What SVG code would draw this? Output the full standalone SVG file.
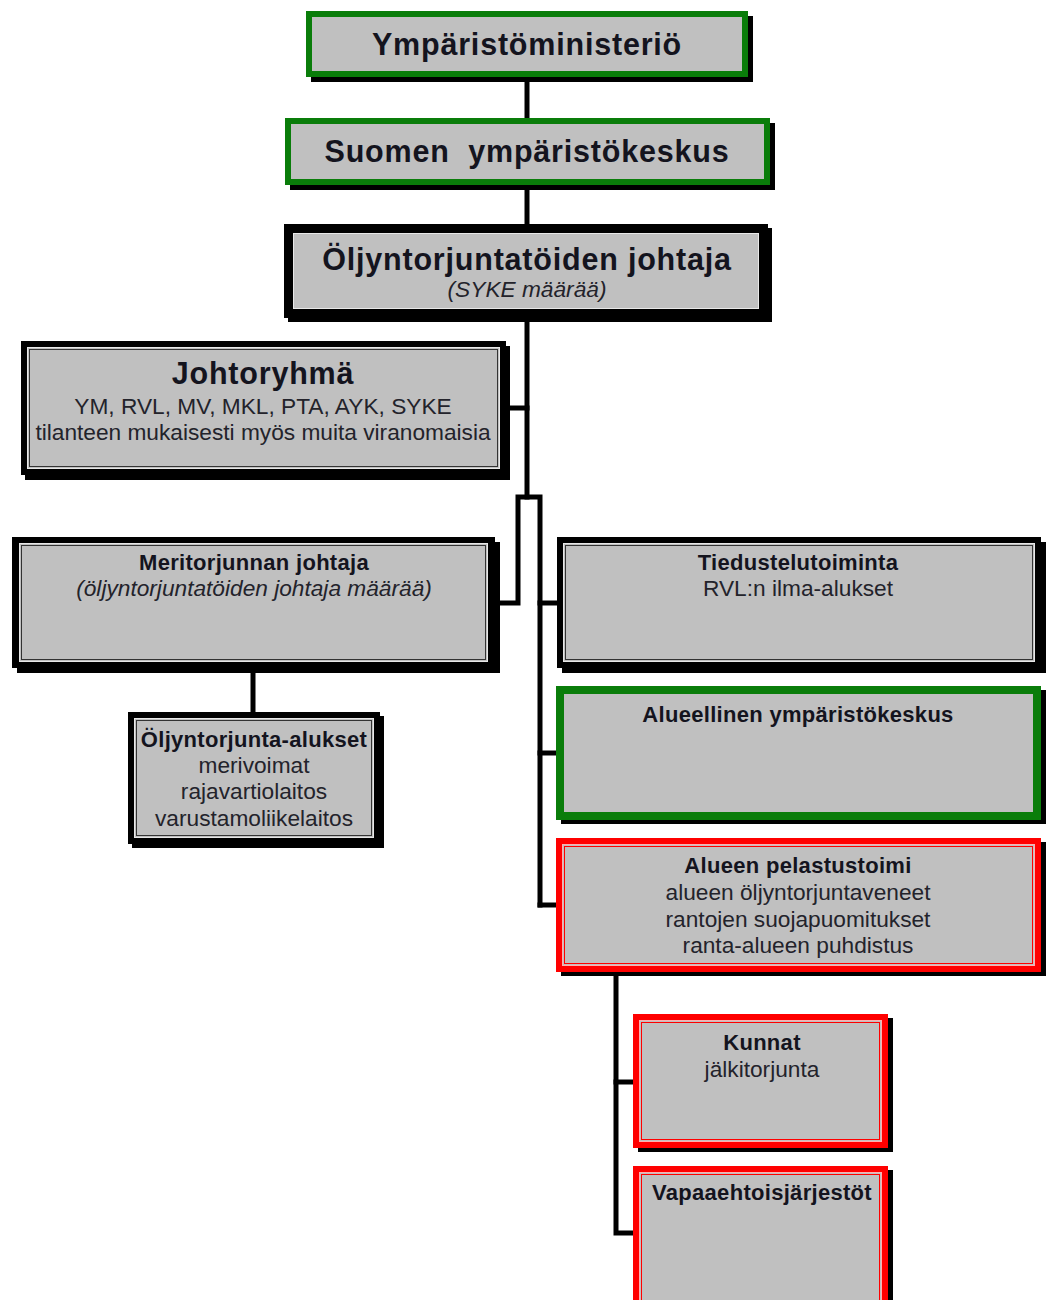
<svg xmlns="http://www.w3.org/2000/svg" width="1046" height="1300" viewBox="0 0 1046 1300">
<style>
.bg{fill:#ffffff}
.sh{fill:#000000}
.g{fill:#0a7d0a}
.k{fill:#000000}
.r{fill:#ff0000}
.in{fill:#c0c0c0}
.hlw{fill:none;stroke:#e8e8e8;stroke-width:1}
.hlk{fill:none;stroke:#333333;stroke-width:1}
.hlr{fill:none;stroke:#ffb0b0;stroke-width:1}
.hlr2{fill:none;stroke:#ff0000;stroke-width:1}
text{font-family:"Liberation Sans",Arial,sans-serif;fill:#14141e;text-anchor:middle}
.t1{font-size:30.5px;font-weight:bold;letter-spacing:0.8px}
.t2{font-size:22px;font-weight:bold;letter-spacing:0.3px}
.n{font-size:22.7px;fill:#23232b}
.it{font-size:22.7px;font-style:italic;fill:#23232b}
.conn{fill:none;stroke:#000000;stroke-width:5;stroke-linejoin:miter;stroke-linecap:square}
</style>
<rect class="bg" x="0" y="0" width="1046" height="1300"/>
<g id="connectors">
<path class="conn" d="M527 77 V118"/>
<path class="conn" d="M527 185 V224"/>
<path class="conn" d="M527 318 V497"/>
<path class="conn" d="M506 408 H527"/>
<path class="conn" d="M494 603 H518 V497 H540 V905"/>
<path class="conn" d="M540 603 H557"/>
<path class="conn" d="M540 753 H556"/>
<path class="conn" d="M540 905 H556"/>
<path class="conn" d="M253 668 V712"/>
<path class="conn" d="M616 971 V1233 H633"/>
<path class="conn" d="M616 1082 H633"/>
</g>
<g id="ymparistoministerio">
<rect class="sh" x="311" y="16" width="442" height="66"/>
<rect class="g" x="306" y="11" width="442" height="66"/>
<rect class="in" x="312" y="17" width="430" height="54"/>
<text class="t1" x="527" y="55">Ympäristöministeriö</text>
</g>
<g id="syke">
<rect class="sh" x="290" y="123" width="485" height="67"/>
<rect class="g" x="285" y="118" width="485" height="67"/>
<rect class="in" x="291" y="124" width="473" height="55"/>
<text class="t1" x="527" y="162" xml:space="preserve">Suomen  ympäristökeskus</text>
</g>
<g id="johtaja">
<rect class="sh" x="288" y="228" width="484" height="94"/>
<rect class="k" x="284" y="224" width="484" height="94"/>
<rect class="in" x="293" y="233" width="466" height="76"/>
<rect class="hlw" x="293.5" y="233.5" width="465" height="75"/>
<text class="t1" x="527" y="270">Öljyntorjuntatöiden johtaja</text>
<text class="it" x="527" y="297">(SYKE määrää)</text>
</g>
<g id="johtoryhma">
<rect class="sh" x="25" y="346" width="485" height="134"/>
<rect class="k" x="21" y="341" width="485" height="134"/>
<rect class="in" x="27" y="347" width="473" height="122"/>
<rect class="hlw" x="27.5" y="347.5" width="472" height="121"/>
<rect class="hlk" x="29.5" y="349.5" width="468" height="117"/>
<text class="t1" x="263" y="384">Johtoryhmä</text>
<text class="n" x="263" y="414">YM, RVL, MV, MKL, PTA, AYK, SYKE</text>
<text class="n" x="263" y="440">tilanteen mukaisesti myös muita viranomaisia</text>
</g>
<g id="meritorjunnan-johtaja">
<rect class="sh" x="17" y="542" width="483" height="131"/>
<rect class="k" x="12" y="537" width="483" height="131"/>
<rect class="in" x="19" y="543" width="469" height="119"/>
<rect class="hlw" x="19.5" y="543.5" width="468" height="118"/>
<rect class="hlk" x="21.5" y="545.5" width="464" height="114"/>
<text class="t2" x="254" y="570">Meritorjunnan johtaja</text>
<text class="it" x="254" y="596">(öljyntorjuntatöiden johtaja määrää)</text>
</g>
<g id="oljyntorjunta-alukset">
<rect class="sh" x="132" y="716" width="252" height="132"/>
<rect class="k" x="128" y="712" width="252" height="132"/>
<rect class="in" x="134" y="718" width="240" height="120"/>
<rect class="hlw" x="134.5" y="718.5" width="239" height="119"/>
<rect class="hlk" x="136.5" y="720.5" width="235" height="115"/>
<text class="t2" x="254" y="747">Öljyntorjunta-alukset</text>
<text class="n" x="254" y="773">merivoimat</text>
<text class="n" x="254" y="799">rajavartiolaitos</text>
<text class="n" x="254" y="826">varustamoliikelaitos</text>
</g>
<g id="tiedustelutoiminta">
<rect class="sh" x="562" y="542" width="484" height="131"/>
<rect class="k" x="557" y="537" width="484" height="131"/>
<rect class="in" x="563" y="543" width="472" height="119"/>
<rect class="hlw" x="563.5" y="543.5" width="471" height="118"/>
<rect class="hlk" x="565.5" y="545.5" width="467" height="114"/>
<text class="t2" x="798" y="570">Tiedustelutoiminta</text>
<text class="n" x="798" y="596">RVL:n ilma-alukset</text>
</g>
<g id="alueellinen-ymparistokeskus">
<rect class="sh" x="561" y="690" width="485" height="134"/>
<rect class="g" x="556" y="686" width="485" height="134"/>
<rect class="in" x="564" y="694" width="469" height="118"/>
<text class="t2" x="798" y="722">Alueellinen ympäristökeskus</text>
</g>
<g id="alueen-pelastustoimi">
<rect class="sh" x="561" y="842" width="485" height="134"/>
<rect class="r" x="556" y="838" width="485" height="134"/>
<rect class="in" x="562" y="844" width="473" height="122"/>
<rect class="hlr" x="562.5" y="844.5" width="472" height="121"/>
<rect class="hlr2" x="564.5" y="846.5" width="468" height="117"/>
<text class="t2" x="798" y="873">Alueen pelastustoimi</text>
<text class="n" x="798" y="900">alueen öljyntorjuntaveneet</text>
<text class="n" x="798" y="927">rantojen suojapuomitukset</text>
<text class="n" x="798" y="953">ranta-alueen puhdistus</text>
</g>
<g id="kunnat">
<rect class="sh" x="638" y="1018" width="255" height="134"/>
<rect class="r" x="633" y="1014" width="255" height="134"/>
<rect class="in" x="639" y="1020" width="243" height="122"/>
<rect class="hlr" x="639.5" y="1020.5" width="242" height="121"/>
<rect class="hlr2" x="641.5" y="1022.5" width="238" height="117"/>
<text class="t2" x="762" y="1050">Kunnat</text>
<text class="n" x="762" y="1077">jälkitorjunta</text>
</g>
<g id="vapaaehtoisjarjestot">
<rect class="sh" x="638" y="1170" width="255" height="150"/>
<rect class="r" x="633" y="1166" width="255" height="150"/>
<rect class="in" x="639" y="1172" width="243" height="138"/>
<rect class="hlr" x="639.5" y="1172.5" width="242" height="137"/>
<rect class="hlr2" x="641.5" y="1174.5" width="238" height="133"/>
<text class="t2" x="762" y="1200">Vapaaehtoisjärjestöt</text>
</g>
</svg>
